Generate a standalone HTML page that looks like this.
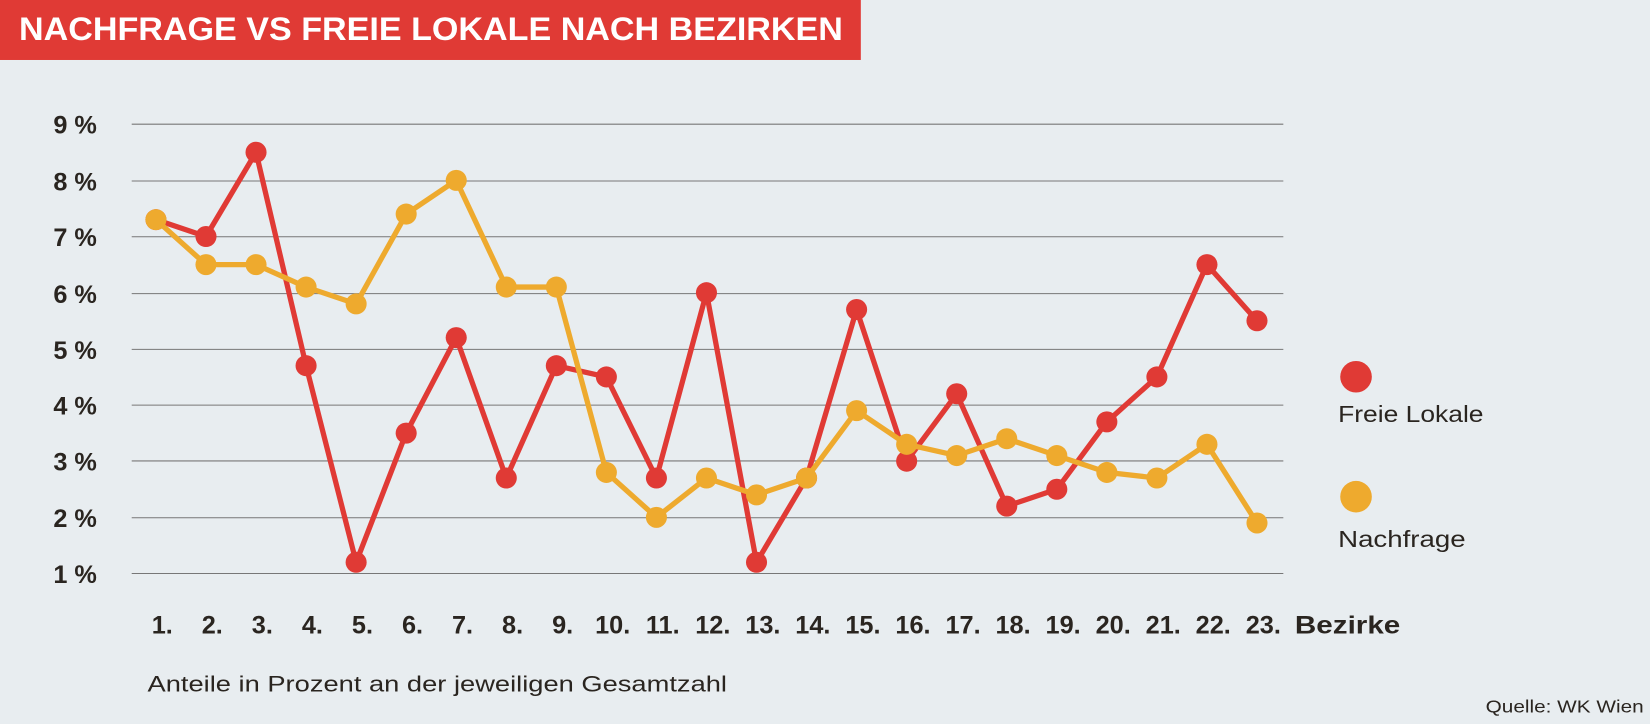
<!DOCTYPE html>
<html><head><meta charset="utf-8"><style>
html,body{margin:0;padding:0;background:#e8edf0;}
svg{display:block;}
text{font-family:"Liberation Sans",sans-serif;}
</style></head><body>
<svg width="1650" height="724" viewBox="0 0 1566 688" preserveAspectRatio="none" xmlns="http://www.w3.org/2000/svg">
<rect width="1566" height="688" fill="#e8edf0"/>
<rect x="0" y="0" width="817" height="57" fill="#e03a35"/>
<text x="18" y="38" fill="#fff" font-weight="bold" font-size="31" textLength="782" lengthAdjust="spacingAndGlyphs">NACHFRAGE VS FREIE LOKALE NACH BEZIRKEN</text>
<g stroke="#777" stroke-width="1">
<line x1="125" x2="1218" y1="118" y2="118"/><line x1="125" x2="1218" y1="172" y2="172"/>
<line x1="125" x2="1218" y1="225" y2="225"/><line x1="125" x2="1218" y1="279" y2="279"/>
<line x1="125" x2="1218" y1="332" y2="332"/><line x1="125" x2="1218" y1="385" y2="385"/>
<line x1="125" x2="1218" y1="438" y2="438"/><line x1="125" x2="1218" y1="492" y2="492"/>
<line x1="125" x2="1218" y1="545" y2="545"/>
</g>
<g font-weight="bold" font-size="24" fill="#2a2520" text-anchor="end">
<text x="92" y="127">9 %</text><text x="92" y="181">8 %</text><text x="92" y="234">7 %</text>
<text x="92" y="288">6 %</text><text x="92" y="341">5 %</text><text x="92" y="394">4 %</text>
<text x="92" y="447">3 %</text><text x="92" y="501">2 %</text><text x="92" y="554">1 %</text>
</g>
<g id="chart"></g>
<g font-weight="bold" font-size="24" fill="#2a2520" text-anchor="middle" id="xl"></g>
<text x="1229" y="602" font-weight="bold" font-size="24" fill="#2a2520" textLength="100" lengthAdjust="spacingAndGlyphs">Bezirke</text>
<circle cx="1287" cy="358" r="15" fill="#e03a35"/>
<text x="1270" y="401" font-size="22" fill="#2a2520" textLength="138" lengthAdjust="spacingAndGlyphs">Freie Lokale</text>
<circle cx="1287" cy="472" r="15" fill="#eeaa2e"/>
<text x="1270" y="520" font-size="22" fill="#2a2520" textLength="121" lengthAdjust="spacingAndGlyphs">Nachfrage</text>
<text x="140" y="657" font-size="21" fill="#2a2520" textLength="550" lengthAdjust="spacingAndGlyphs">Anteile in Prozent an der jeweiligen Gesamtzahl</text>
<text x="1410" y="677" font-size="17" fill="#2a2520" textLength="150" lengthAdjust="spacingAndGlyphs">Quelle: WK Wien</text>
<script>
(function(){
var ns="http://www.w3.org/2000/svg";
var red=[7.3,7.0,8.5,4.7,1.2,3.5,5.2,2.7,4.7,4.5,2.7,6.0,1.2,2.7,5.7,3.0,4.2,2.2,2.5,3.7,4.5,6.5,5.5];
var org=[7.3,6.5,6.5,6.1,5.8,7.4,8.0,6.1,6.1,2.8,2.0,2.7,2.4,2.7,3.9,3.3,3.1,3.4,3.1,2.8,2.7,3.3,1.9];
function X(i){return 148+i*47.5;} function Y(v){return 545-(v-1)*53.375;}
var g=document.getElementById("chart");
function series(d,c){
 var p=d.map(function(v,i){return X(i)+","+Y(v);}).join(" ");
 var pl=document.createElementNS(ns,"polyline");
 pl.setAttribute("points",p);pl.setAttribute("fill","none");pl.setAttribute("stroke",c);
 pl.setAttribute("stroke-width","5");pl.setAttribute("stroke-linejoin","round");g.appendChild(pl);
 d.forEach(function(v,i){var ci=document.createElementNS(ns,"circle");
  ci.setAttribute("cx",X(i));ci.setAttribute("cy",Y(v));ci.setAttribute("r","10");ci.setAttribute("fill",c);g.appendChild(ci);});
}
series(red,"#e03a35");series(org,"#eeaa2e");
var xl=document.getElementById("xl");
for(var i=0;i<23;i++){var t=document.createElementNS(ns,"text");t.setAttribute("x",X(i)+6);t.setAttribute("y","602");t.textContent=(i+1)+".";xl.appendChild(t);}
})();
</script>
</svg>
</body></html>
